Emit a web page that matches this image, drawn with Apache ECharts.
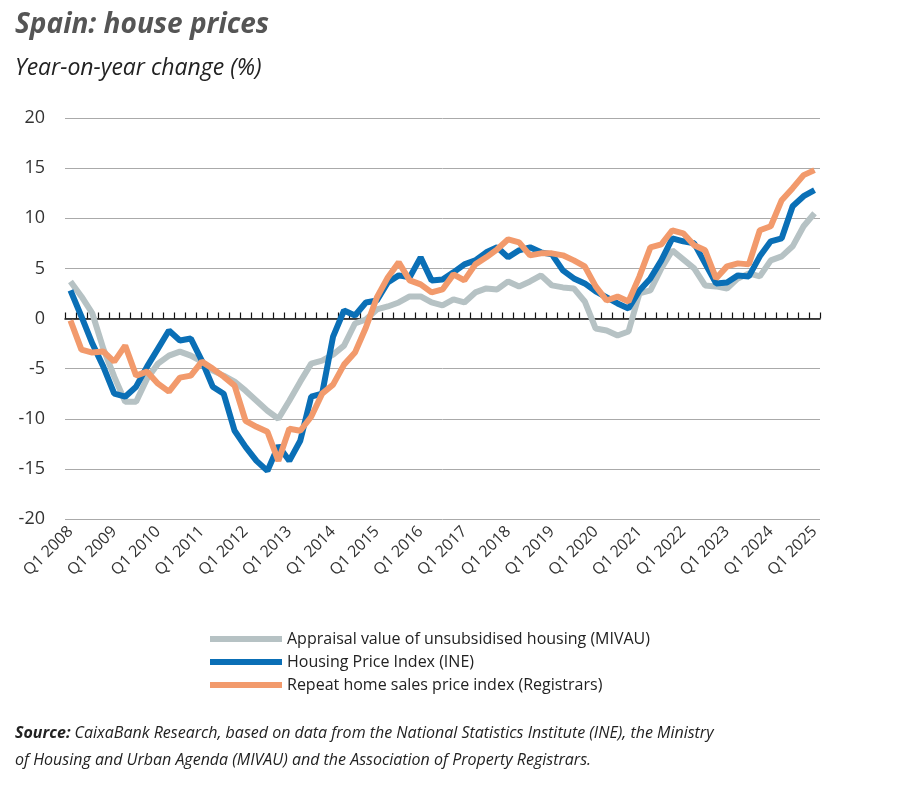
<!DOCTYPE html>
<html><head><meta charset="utf-8">
<script src="https://cdn.jsdelivr.net/npm/echarts@6/dist/echarts.min.js"></script>
<style>body{margin:0;background:#fff}#c{width:900px;height:786px}</style>
</head><body><div id="c"></div>
<script>
const quarters = [];
for (let y = 2008; y <= 2025; y++) for (let q = 1; q <= 4; q++) if (!(y === 2025 && q > 1)) quarters.push('Q' + q + ' ' + y);
const mivau = [3.7,2.2,0.5,-3,-5.8,-8.3,-8.3,-6,-4.5,-3.7,-3.3,-3.7,-4.3,-5.2,-5.7,-6.3,-7.2,-8.2,-9.2,-10,-8.2,-6.3,-4.5,-4.2,-3.6,-2.7,-0.5,-0.1,0.9,1.2,1.6,2.2,2.2,1.6,1.3,1.9,1.6,2.6,3,2.9,3.7,3.2,3.7,4.3,3.3,3.1,3.0,1.7,-1.0,-1.2,-1.7,-1.3,2.5,2.8,5.0,6.8,5.9,5.0,3.3,3.2,3.0,4.0,4.5,4.2,5.8,6.2,7.2,9.2,10.5];
const ine = [2.8,0.2,-2.5,-4.8,-7.5,-7.8,-6.8,-4.8,-3,-1.2,-2.2,-2,-4.2,-6.8,-7.5,-11.2,-12.8,-14.2,-15.2,-12.7,-14.2,-12.2,-7.8,-7.5,-1.8,0.8,0.3,1.6,1.8,3.6,4.3,4.1,6.1,3.8,3.9,4.6,5.4,5.8,6.6,7.1,6.1,6.8,7.1,6.6,6.4,4.8,4.0,3.5,2.7,2.1,1.5,1.0,2.8,4.0,5.8,8.0,7.7,7.5,5.5,3.5,3.6,4.3,4.2,6.2,7.7,8.0,11.2,12.2,12.8];
const registrars = [-0.2,-3.1,-3.4,-3.3,-4.3,-2.7,-5.7,-5.3,-6.5,-7.3,-5.9,-5.7,-4.3,-5,-5.8,-6.7,-10.2,-10.8,-11.3,-14.2,-11,-11.2,-9.8,-7.5,-6.6,-4.6,-3.4,-0.9,2.1,4.1,5.6,3.8,3.4,2.6,2.9,4.4,3.8,5.4,6.1,6.9,7.9,7.6,6.3,6.5,6.5,6.3,5.8,5.2,3.2,1.8,2.2,1.7,4.2,7.1,7.4,8.8,8.5,7.3,6.8,4.0,5.2,5.5,5.4,8.8,9.2,11.8,13.0,14.3,14.8];
const names = ['Appraisal value of unsubsidised housing (MIVAU)','Housing Price Index (INE)','Repeat home sales price index (Registrars)'];
const colors = ['#b6c2c4','#0a6fb6','#f29a6c'];
const F = 'Open Sans';
const chart = echarts.init(document.getElementById('c'));
chart.setOption({
  animation:false,
  textStyle:{fontFamily:F},
  title:[
    {text:'Spain: house prices',left:10,top:6,textStyle:{fontFamily:F,fontSize:28,fontWeight:'bold',fontStyle:'italic',color:'#555'}},
    {text:'Year-on-year change (%)',left:10,top:52,textStyle:{fontFamily:F,fontSize:23,fontWeight:'normal',fontStyle:'italic',color:'#222'}},
    {text:'{b|Source:} CaixaBank Research, based on data from the National Statistics Institute (INE), the Ministry\nof Housing and Urban Agenda (MIVAU) and the Association of Property Registrars.',left:10,top:715,
     textStyle:{fontFamily:F,fontSize:16,fontStyle:'italic',fontWeight:'normal',color:'#222',lineHeight:27,rich:{b:{fontFamily:F,fontSize:16,fontWeight:'bold',fontStyle:'italic',color:'#222'}}}}
  ],
  legend:{orient:'vertical',left:205,top:626,itemWidth:72,itemHeight:6,itemGap:7,icon:'rect',
    textStyle:{fontFamily:F,fontSize:16,color:'#222'},data:names},
  grid:{left:65,right:80,top:118,bottom:267},
  xAxis:[
    {type:'category',data:quarters,position:'bottom',axisLine:{show:false,onZero:false},axisTick:{show:false},
     axisLabel:{rotate:45,fontSize:16,color:'#333',interval:3,margin:10,fontFamily:F}},
    {type:'category',data:quarters,position:'top',axisLine:{show:true,onZero:true,lineStyle:{color:'#111',width:1.5}},
     axisTick:{show:true,inside:false,interval:0,length:6,lineStyle:{color:'#111',width:1.2}},axisLabel:{show:false}}
  ],
  yAxis:{type:'value',min:-20,max:20,interval:5,axisLine:{show:false},axisTick:{show:false},
    axisLabel:{fontSize:18,color:'#333',margin:20,fontFamily:F},splitLine:{lineStyle:{color:'#aaa',width:1}}},
  series:[mivau,ine,registrars].map((d,i)=>({name:names[i],type:'line',data:d,xAxisIndex:0,symbol:'none',
    lineStyle:{width:6,color:colors[i]},itemStyle:{color:colors[i]},z:2+i}))
});
</script></body></html>
